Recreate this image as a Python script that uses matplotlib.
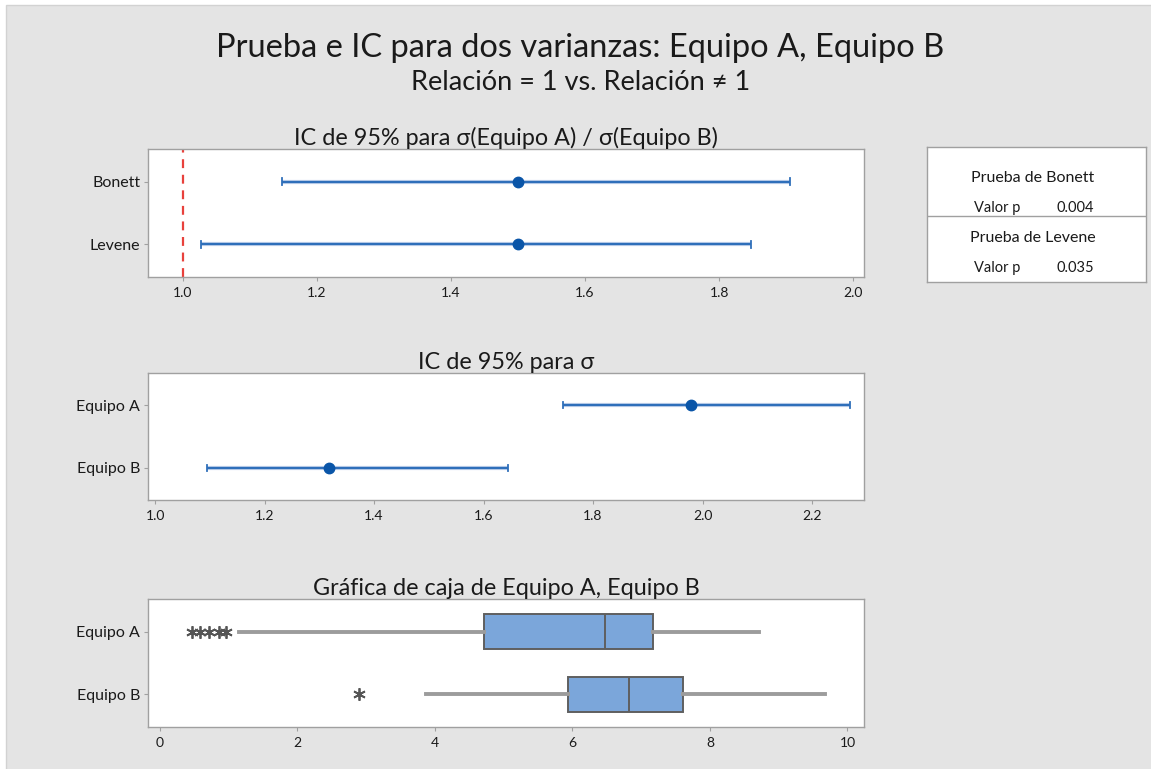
import matplotlib
matplotlib.use("Agg")
import matplotlib.pyplot as plt
from matplotlib.patches import Rectangle

plt.rcParams['font.family'] = ['Lato', 'DejaVu Sans']

# Ratio of standard deviations, 95% CI
ratio_methods = ["Bonett", "Levene"]
ratio_est = [1.50, 1.50]
ratio_low = [1.148, 1.027]
ratio_high = [1.905, 1.848]
ratio_ref = 1.0

# Standard deviation per group, 95% CI
groups = ["Equipo A", "Equipo B"]
sd_est = [1.979, 1.318]
sd_low = [1.746, 1.094]
sd_high = [2.269, 1.644]

# Box plot summaries per group
box_whislo = [1.16, 3.87]
box_q1 = [4.71, 5.93]
box_med = [6.48, 6.82]
box_q3 = [7.17, 7.61]
box_whishi = [8.72, 9.68]
box_fliers = [[0.47, 0.58, 0.72, 0.86, 0.97], [2.90]]

# Test p-values
tests = ["Prueba de Bonett", "Prueba de Levene"]
p_values = ["0.004", "0.035"]

W, H = 1151, 769
fig = plt.figure(figsize=(W / 100, H / 100), dpi=100, facecolor="white")

BG = "#e4e4e4"
FRAME = "#a0a0a0"
BLUE_LINE = "#2f6fba"
BLUE_DOT = "#0a55a8"
TXT = "#1a1a1a"
XTICK_FS = 10
YTICK_FS = 11.5
INFO_HEAD_FS = 11.5
INFO_FS = 10.5
PANEL_FS = 16.8

# Gray canvas with a thin border on the left and top
fig.patches.append(Rectangle((6 / W, -0.01), 1.02, 1 - 5 / H + 0.01, transform=fig.transFigure,
                             facecolor=BG, edgecolor="#d2d2d2", lw=1.0, zorder=-10))


def fpos(x0, y0, x1, y1):
    return [x0 / W, 1 - y1 / H, (x1 - x0) / W, (y1 - y0) / H]


def style_axes(ax):
    ax.set_facecolor("white")
    for s in ax.spines.values():
        s.set_color(FRAME)
        s.set_linewidth(1.0)
    ax.tick_params(axis="both", colors=FRAME, labelcolor=TXT, length=3, width=0.8)
    ax.tick_params(axis="x", labelsize=XTICK_FS, pad=4.5)
    ax.tick_params(axis="y", labelsize=YTICK_FS, pad=2.5)


def ci_rows(ax, labels, est, low, high):
    n = len(labels)
    ys = list(range(n))
    for y, e, lo, hi in zip(ys, est, low, high):
        ax.plot([lo, hi], [y, y], color="#b9cde8", lw=3.0, solid_capstyle="butt", zorder=2)
        ax.plot([lo, hi], [y, y], color=BLUE_LINE, lw=1.5, solid_capstyle="butt", zorder=3)
        ax.plot([lo, lo], [y - 0.05, y + 0.05], color=BLUE_LINE, lw=1.3, zorder=3)
        ax.plot([hi, hi], [y - 0.05, y + 0.05], color=BLUE_LINE, lw=1.3, zorder=3)
        ax.plot([e], [y], "o", color=BLUE_DOT, ms=7.5, zorder=4)
    ax.set_yticks(ys)
    ax.set_yticklabels(labels)
    ax.set_ylim(n - 1 + 0.52, -0.52)


# Panel 1: ratio CI
ax1 = fig.add_axes(fpos(148, 149, 864, 277))
style_axes(ax1)
ci_rows(ax1, ratio_methods, ratio_est, ratio_low, ratio_high)
ax1.axvline(ratio_ref, color="#e8413c", lw=1.6, ls=(0, (4, 3)), zorder=1)
ax1.set_xlim(0.948, 2.016)
ax1.set_xticks([1.0, 1.2, 1.4, 1.6, 1.8, 2.0])
ax1.set_xticklabels(["1.0", "1.2", "1.4", "1.6", "1.8", "2.0"])
ax1.set_title("IC de 95% para σ(Equipo A) / σ(Equipo B)", fontsize=PANEL_FS, color=TXT, pad=1.5)

# Panel 2: standard deviation CI
ax2 = fig.add_axes(fpos(148, 373, 864, 500))
style_axes(ax2)
ci_rows(ax2, groups, sd_est, sd_low, sd_high)
ax2.set_xlim(0.987, 2.295)
ax2.set_xticks([1.0, 1.2, 1.4, 1.6, 1.8, 2.0, 2.2])
ax2.set_xticklabels(["1.0", "1.2", "1.4", "1.6", "1.8", "2.0", "2.2"])
ax2.set_title("IC de 95% para σ", fontsize=PANEL_FS, color=TXT, pad=1.5)

# Panel 3: box plots
ax3 = fig.add_axes(fpos(148, 599, 864, 727))
style_axes(ax3)
stats = []
for i, g in enumerate(groups):
    stats.append(dict(label=g, whislo=box_whislo[i], q1=box_q1[i], med=box_med[i],
                      q3=box_q3[i], whishi=box_whishi[i], fliers=box_fliers[i]))
ax3.bxp(stats, positions=[0, 1], vert=False, widths=0.55, patch_artist=True,
        showcaps=False,
        boxprops=dict(facecolor="#7ba6da", edgecolor="#5f5f5f", lw=1.4),
        medianprops=dict(color="#5f5f5f", lw=1.4),
        whiskerprops=dict(color="#9c9c9c", lw=2.8),
        flierprops=dict(marker=(6, 2, 0), markersize=9, markeredgecolor="#555555",
                        markeredgewidth=1.3, linestyle="none"))
ax3.set_yticks([0, 1])
ax3.set_yticklabels(groups)
ax3.set_ylim(1.52, -0.52)
ax3.set_xlim(-0.17, 10.24)
ax3.set_xticks([0, 2, 4, 6, 8, 10])
ax3.set_xticklabels(["0", "2", "4", "6", "8", "10"])
ax3.set_title("Gráfica de caja de Equipo A, Equipo B", fontsize=PANEL_FS, color=TXT, pad=1.5)

# P-value table
ax4 = fig.add_axes(fpos(927, 147, 1146, 282))
ax4.set_xlim(927, 1146)
ax4.set_ylim(282, 147)
ax4.set_facecolor("white")
ax4.set_xticks([])
ax4.set_yticks([])
for s in ax4.spines.values():
    s.set_color(FRAME)
    s.set_linewidth(1.0)
ax4.axhline(216, color=FRAME, lw=1.0)
for i, (t, p) in enumerate(zip(tests, p_values)):
    y0 = 178 + i * 60
    ax4.text(1033, y0, t, ha="center", va="center", fontsize=INFO_HEAD_FS, color=TXT)
    ax4.text(997, y0 + 30, "Valor p", ha="center", va="center", fontsize=INFO_FS, color=TXT)
    ax4.text(1075, y0 + 30, p, ha="center", va="center", fontsize=INFO_FS, color=TXT)

# Figure titles
fig.text(580 / W, 1 - 48 / H, "Prueba e IC para dos varianzas: Equipo A, Equipo B",
         ha="center", va="center", fontsize=23.5, color=TXT)
fig.text(581 / W, 1 - 83 / H, "Relación = 1 vs. Relación ≠ 1",
         ha="center", va="center", fontsize=19.5, color=TXT)

fig.savefig("out.png", dpi=100, facecolor=fig.get_facecolor())
